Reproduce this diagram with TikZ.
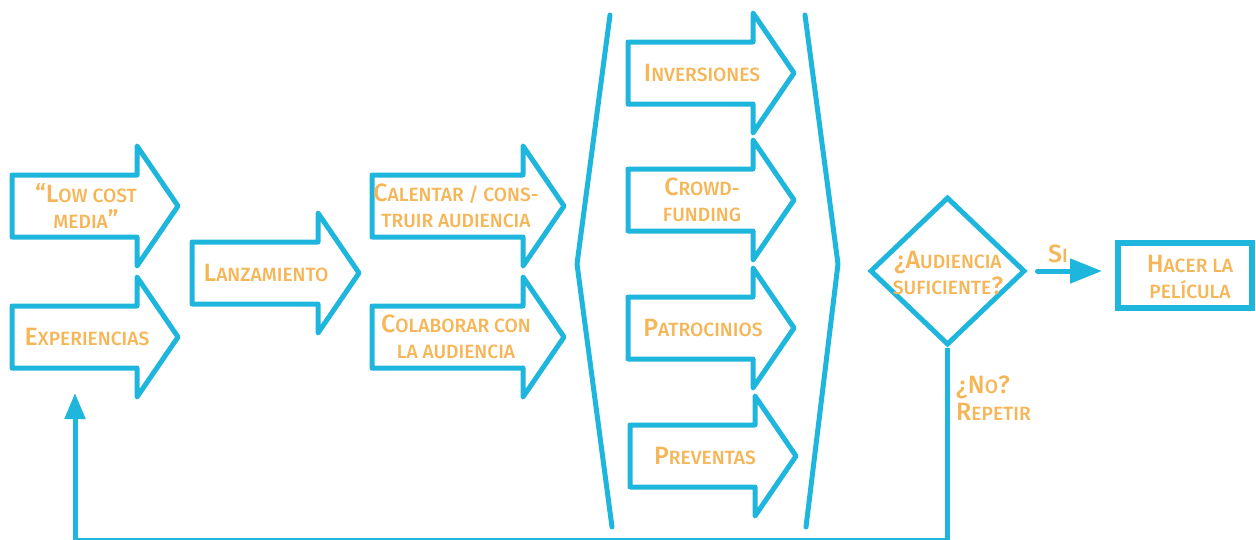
\documentclass[tikz,border=0pt]{standalone}
\usepackage{fontspec}
\setmainfont{Fira Sans}[UprightFont={* Medium}]
\usetikzlibrary{arrows.meta,shapes.geometric}
\definecolor{flowblue}{RGB}{30,182,220}
\definecolor{flowtext}{RGB}{246,182,88}
% large initial letter of a small-caps style label
\newcommand\Ini[1]{{\fontsize{25}{27}\selectfont #1}}
% small-caps style word: big initial, rest in capitals
\newcommand\Sc[2]{\Ini{#1}\MakeUppercase{#2}}
% block arrow: left x, centre y, body width
\newcommand\barrow[3]{%
  \draw[blockline] (#1,#2-31) -- ++(#3,0) -- ++(0,-29) -- (#1+#3+41,#2)
    -- (#1+#3,#2+60) -- ++(0,-29) -- (#1,#2+31) -- cycle;}
\begin{document}
\begin{tikzpicture}[x=1pt,y=-1pt,
  blockline/.style={draw=flowblue,line width=5pt,line join=round},
  txt/.style={text=flowtext,font=\fontsize{19.2}{26.5}\selectfont,align=center,inner sep=0pt},
  conn/.style={draw=flowblue,line width=5pt},
  bracket/.style={draw=flowblue,line width=5pt,line cap=round,line join=round}]
\useasboundingbox (0,0) rectangle (1256,539);

% first stage
\barrow{12}{206}{125}
\node[txt] (lowcost) at (86,206) {\Sc{“L}{ow cost}\\\MakeUppercase{media}\Ini{”}};
\barrow{12}{337}{125}
\node[txt] (exper) at (87,337) {\Sc{E}{xperiencias}};
\barrow{192}{273}{126}
\node[txt] (lanz) at (266,273) {\Sc{L}{anzamiento}};

% audience stage
\barrow{372}{206}{151}
\node[txt] (calentar) at (456,206) {\Sc{C}{alentar / cons-}\\\MakeUppercase{truir audiencia}};
\barrow{372}{337}{151}
\node[txt] (colab) at (456,337) {\Sc{C}{olaborar con}\\\MakeUppercase{la audiencia}};

% funding group with brackets
\draw[bracket] (610,15) -- (577,264) -- (612,527);
\draw[bracket] (805,15) -- (838,264) -- (806,527);
\barrow{628}{73}{125}
\node[txt] (inv) at (702,73) {\Sc{I}{nversiones}};
\barrow{628}{200}{125}
\node[txt] (crowd) at (702,200) {\Sc{C}{rowd-}\\\MakeUppercase{funding}};
\barrow{628}{328}{125}
\node[txt] (patro) at (703,328) {\Sc{P}{atrocinios}};
\barrow{630}{456}{125}
\node[txt] (prev) at (705,456) {\Sc{P}{reventas}};

% decision
\node[diamond,draw=flowblue,line width=5pt,minimum width=155pt,minimum height=148pt,inner sep=0pt]
  (dia) at (947.5,271) {};
\node[txt] (diatext) at (948,273) {\Sc{¿A}{udiencia}\\\MakeUppercase{suficiente}\Ini{?}};
\node[draw=flowblue,line width=6pt,minimum width=134pt,minimum height=65pt,inner sep=0pt]
  (film) at (1185,275.5) {};
\node[txt] (filmtext) at (1190,277) {\Sc{H}{acer la}\\\MakeUppercase{película}};

\draw[conn,line cap=round,-{Triangle[length=32pt,width=24pt]}]
  ([xshift=10pt]dia.east) -- ([xshift=-13pt]film.west |- dia.east);
\node[txt] (si) at (1058,254) {\Sc{S}{i}};

% loop back
\coordinate (bot) at (0,540.5);
\coordinate (retEnd) at (75,393);
\draw[conn,-{Triangle[length=26pt,width=20pt]}]
  (dia.south) -- (dia.south |- bot) -| (retEnd);
\node[txt,align=left,anchor=west] (repetir) at (956,398) {\Sc{¿N}{o}\Ini{?}\\\Sc{R}{epetir}};
\end{tikzpicture}
\end{document}
